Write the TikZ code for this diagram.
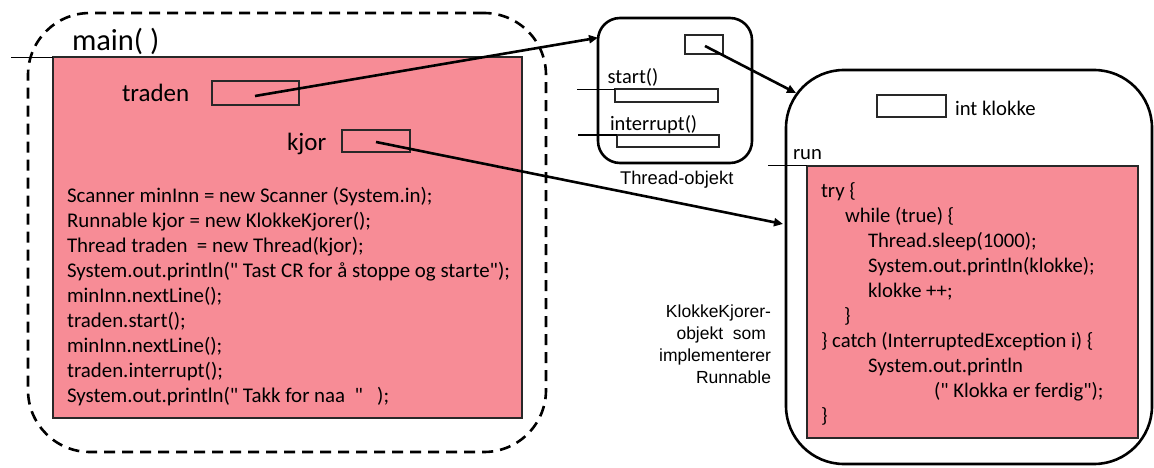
\documentclass[tikz,border=0pt]{standalone}
\usepackage{fontspec}
\setmainfont{Carlito}[Ligatures=TeXOff]
\newfontfamily\labelfont{Liberation Sans}
\usetikzlibrary{arrows.meta}

\definecolor{codepink}{RGB}{247,140,150}
\definecolor{edgegray}{RGB}{40,40,40}

\tikzset{
  blank/.style={inner sep=0pt, outer sep=0pt, anchor=north west},
  dashframe/.style={blank, draw=black, line width=2.6pt, dash pattern=on 11pt off 7pt, rounded corners=62pt},
  objframe/.style={blank, draw=black, line width=2.6pt},
  codebox/.style={blank, draw=edgegray, line width=1.8pt, fill=codepink},
  refbox/.style={blank, draw=edgegray, line width=1.7pt},
  stub/.style={draw=black, line width=1.5pt},
  pointer/.style={draw=black, line width=2.6pt, -{Triangle[length=9pt, width=8pt]}},
  txt/.style={inner sep=0pt, outer sep=0pt, anchor=base west},
  code/.style={txt, align=left, font=\fontsize{20.9}{25}\selectfont},
}

\begin{document}
\begin{tikzpicture}[x=1pt, y=-1pt]
\useasboundingbox (0,0) rectangle (1154,468);

% ---- main method frame ----
\node[dashframe, minimum width=518pt, minimum height=439pt] (mainframe) at (28,13) {};
\node[txt, font=\fontsize{30.5}{36}\selectfont] (mainlabel) at (72,51) {main( )};
\node[codebox, minimum width=469pt, minimum height=360.7pt] (mainpink) at (53.3,57.3) {};
\coordinate (mainstub) at (11,57.3);
\draw[stub] (mainstub) -- (mainpink.north west);

\node[txt, font=\fontsize{25}{30}\selectfont] (tradenlabel) at (122,102) {traden};
\node[refbox, minimum width=87pt, minimum height=24pt] (tradenbox) at (212,81) {};
\node[txt, font=\fontsize{25}{30}\selectfont] (kjorlabel) at (287,151) {kjor};
\node[refbox, minimum width=68pt, minimum height=22pt] (kjorbox) at (342,130) {};

% the base anchor of a multi-line node sits on its last line
\node[code] (maincode) at (67,402.5) {%
Scanner minInn = new Scanner (System.in);\\
Runnable kjor = new KlokkeKjorer();\\
Thread traden\ \ = new Thread(kjor);\\
System.out.println(" Tast CR for å stoppe og starte");\\
minInn.nextLine();\\
traden.start();\\
minInn.nextLine();\\
traden.interrupt();\\
System.out.println(" Takk for naa\ \ "\ \ \ );};

% ---- Thread object ----
\node[objframe, rounded corners=22pt, minimum width=154pt, minimum height=145pt] (thread) at (598,18) {};
\node[refbox, minimum width=38pt, minimum height=19pt] (threadref) at (685,35) {};
\node[txt, font=\fontsize{20.5}{25}\selectfont] (startlabel) at (607.7,84) {start()};
\node[refbox, minimum width=102.7pt, minimum height=12.4pt] (startbox) at (615,89.3) {};
\coordinate (startstub) at (577,89.3);
\draw[stub] (startstub) -- (startbox.north west);
\node[txt, font=\fontsize{20.5}{25}\selectfont] (interruptlabel) at (610,131) {interrupt()};
\node[refbox, minimum width=102pt, minimum height=11.7pt] (interruptbox) at (617.3,135) {};
\coordinate (interruptstub) at (578,135);
\draw[stub] (interruptstub) -- (interruptbox.north west);
\node[txt, font=\labelfont\fontsize{18.4}{22}\selectfont] (threadname) at (620,184) {Thread-objekt};

% ---- KlokkeKjorer object ----
\node[objframe, rounded corners=58pt, minimum width=366pt, minimum height=394pt] (runner) at (786,70) {};
\node[refbox, minimum width=69pt, minimum height=22.3pt] (klokkebox) at (877.3,95) {};
\node[txt, font=\fontsize{20.7}{25}\selectfont] (klokkelabel) at (955,116) {int klokke};
\node[txt, font=\fontsize{20.7}{25}\selectfont] (runlabel) at (793,159.3) {run};
\node[codebox, minimum width=331pt, minimum height=272.3pt] (runpink) at (807.3,165.7) {};
\coordinate (runstub) at (768,165.7);
\draw[stub] (runstub) -- (runpink.north west);

\node[code, font=\fontsize{20.7}{25}\selectfont] (runcode) at (821,422.5) {%
try \{\\
\hspace*{24pt}while (true) \{\\
\hspace*{47pt}Thread.sleep(1000);\\
\hspace*{47pt}System.out.println(klokke);\\
\hspace*{47pt}klokke ++;\\
\hspace*{23pt}\}\\
\} catch (InterruptedException i) \{\\
\hspace*{47pt}System.out.println\\
\hspace*{113pt}(" Klokka er ferdig");\\
\}};

\node[inner sep=0pt, outer sep=0pt, anchor=north east, align=right,
      font=\labelfont\fontsize{17.5}{22}\selectfont] (runnername) at (771,305)
  {KlokkeKjorer-\\objekt\ \ som\kern5pt\\implementerer\\Runnable};

% ---- references ----
\coordinate (tradenref) at (255,96);
\coordinate (threadin) at (598,37.7);
\draw[pointer] (tradenref) -- (threadin);

\coordinate (threadrefpt) at (705,46);
\coordinate (runnercorner) at (796,93);
\draw[pointer] (threadrefpt) -- (runnercorner);

\coordinate (kjorref) at (376,142);
\coordinate (runnerin) at (783,224);
\draw[pointer] (kjorref) -- (runnerin);
\end{tikzpicture}
\end{document}
